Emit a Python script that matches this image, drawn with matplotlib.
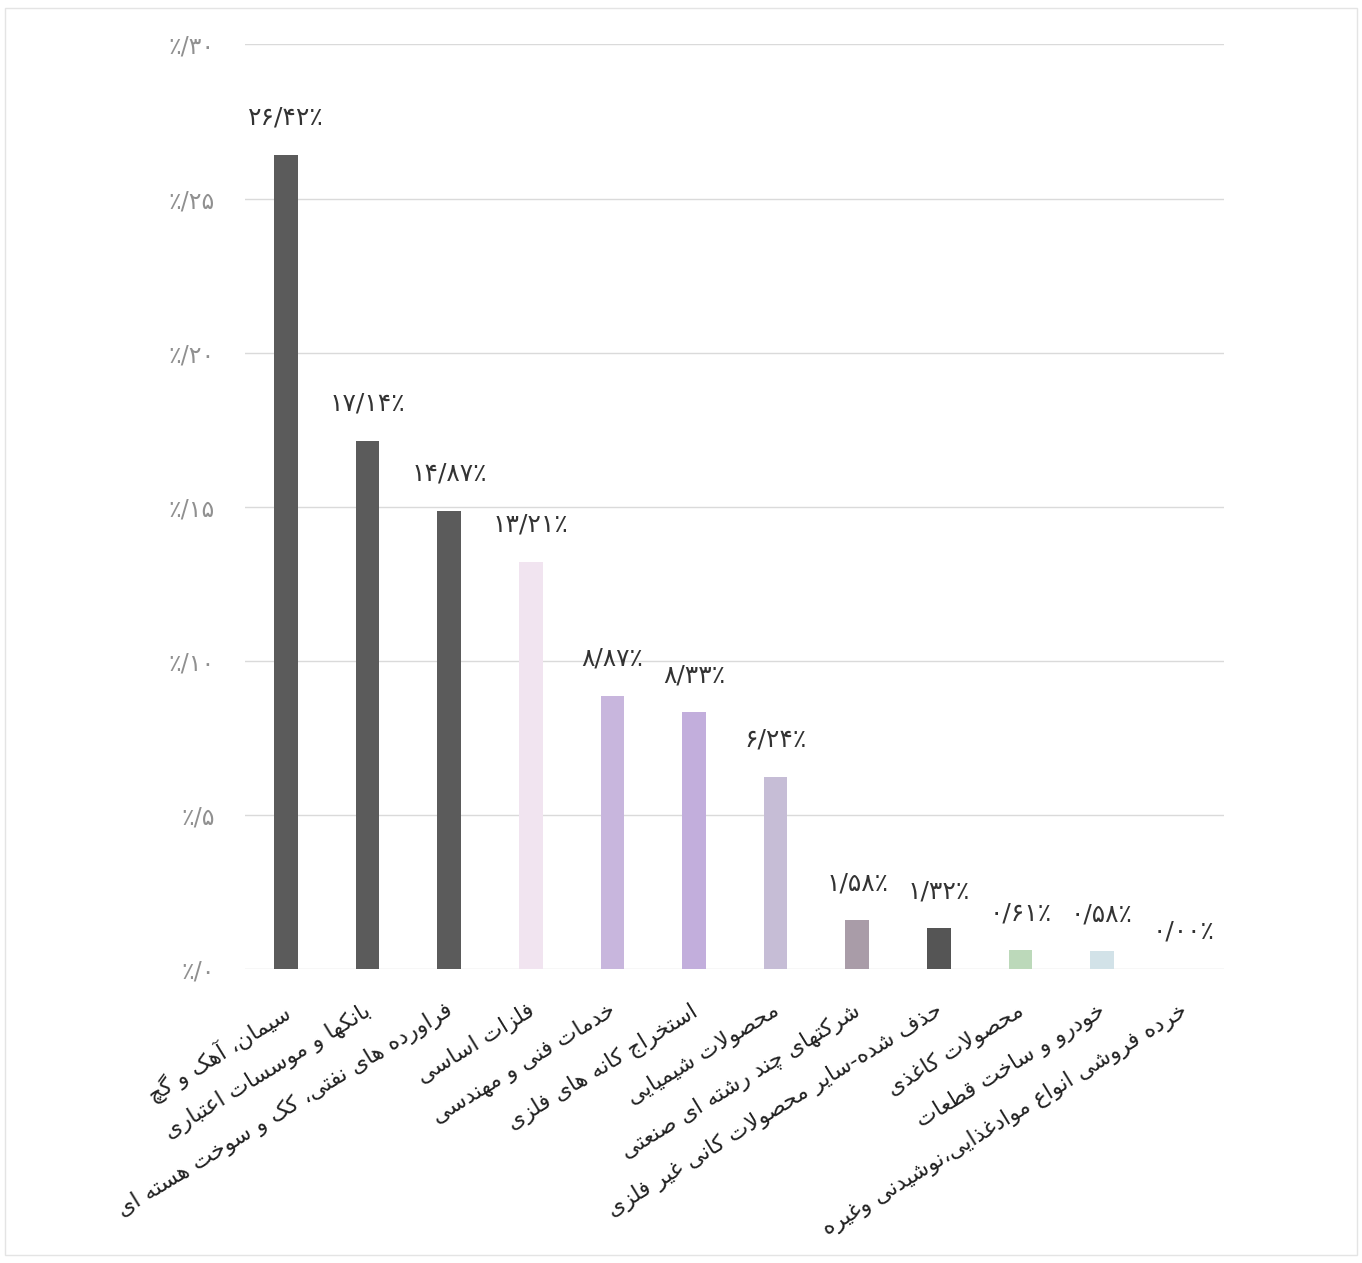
import matplotlib
matplotlib.use("Agg")
import matplotlib.pyplot as plt
from matplotlib.patches import Rectangle
from matplotlib.transforms import ScaledTranslation

plt.rcParams["font.family"] = ["DejaVu Sans"]

# data
categories = [
    "سیمان، آهک و گچ",
    "بانکها و موسسات اعتباری",
    "فراورده های نفتی، کک و سوخت هسته ای",
    "فلزات اساسی",
    "خدمات فنی و مهندسی",
    "استخراج کانه های فلزی",
    "محصولات شیمیایی",
    "شرکتهای چند رشته ای صنعتی",
    "حذف شده-سایر محصولات کانی غیر فلزی",
    "محصولات کاغذی",
    "خودرو و ساخت قطعات",
    "خرده فروشی انواع موادغذایی،نوشیدنی وغیره",
]
values = [26.42, 17.14, 14.87, 13.21, 8.87, 8.33, 6.24, 1.58, 1.32, 0.61, 0.58, 0.00]
bar_colors = ["#5b5b5b", "#5b5b5b", "#5b5b5b", "#f1e4f0", "#c8b6dd", "#c2aedc",
              "#c6bdd6", "#a99ca8", "#555555", "#bcd9ba", "#d2e2e8", "#ffffff"]
yticks = [0, 5, 10, 15, 20, 25, 30]

# --- tiny arabic/persian shaper (matplotlib has no bidi/shaping) ---
# letter: (isolated, final, initial, medial); right-joining letters only have 2 forms
FORMS = {
    "ب": (0xFE8F, 0xFE90, 0xFE91, 0xFE92), "پ": (0xFB56, 0xFB57, 0xFB58, 0xFB59),
    "ت": (0xFE95, 0xFE96, 0xFE97, 0xFE98), "ث": (0xFE99, 0xFE9A, 0xFE9B, 0xFE9C),
    "ج": (0xFE9D, 0xFE9E, 0xFE9F, 0xFEA0), "چ": (0xFB7A, 0xFB7B, 0xFB7C, 0xFB7D),
    "ح": (0xFEA1, 0xFEA2, 0xFEA3, 0xFEA4), "خ": (0xFEA5, 0xFEA6, 0xFEA7, 0xFEA8),
    "س": (0xFEB1, 0xFEB2, 0xFEB3, 0xFEB4), "ش": (0xFEB5, 0xFEB6, 0xFEB7, 0xFEB8),
    "ص": (0xFEB9, 0xFEBA, 0xFEBB, 0xFEBC), "ض": (0xFEBD, 0xFEBE, 0xFEBF, 0xFEC0),
    "ط": (0xFEC1, 0xFEC2, 0xFEC3, 0xFEC4), "ظ": (0xFEC5, 0xFEC6, 0xFEC7, 0xFEC8),
    "ع": (0xFEC9, 0xFECA, 0xFECB, 0xFECC), "غ": (0xFECD, 0xFECE, 0xFECF, 0xFED0),
    "ف": (0xFED1, 0xFED2, 0xFED3, 0xFED4), "ق": (0xFED5, 0xFED6, 0xFED7, 0xFED8),
    "ک": (0xFB8E, 0xFB8F, 0xFB90, 0xFB91), "گ": (0xFB92, 0xFB93, 0xFB94, 0xFB95),
    "ل": (0xFEDD, 0xFEDE, 0xFEDF, 0xFEE0), "م": (0xFEE1, 0xFEE2, 0xFEE3, 0xFEE4),
    "ن": (0xFEE5, 0xFEE6, 0xFEE7, 0xFEE8), "ه": (0xFEE9, 0xFEEA, 0xFEEB, 0xFEEC),
    "ی": (0xFBFC, 0xFBFD, 0xFBFE, 0xFBFF), "ئ": (0xFE89, 0xFE8A, 0xFE8B, 0xFE8C),
    "ا": (0xFE8D, 0xFE8E), "آ": (0xFE81, 0xFE82), "د": (0xFEA9, 0xFEAA),
    "ذ": (0xFEAB, 0xFEAC), "ر": (0xFEAD, 0xFEAE), "ز": (0xFEAF, 0xFEB0),
    "ژ": (0xFB8A, 0xFB8B), "و": (0xFEED, 0xFEEE),
}
LAM_ALEF = {"ا": (0xFEFB, 0xFEFC), "آ": (0xFEF5, 0xFEF6)}


def shape(text):
    # merge lam+alef first
    chars = []
    i = 0
    while i < len(text):
        c = text[i]
        if c == "ل" and i + 1 < len(text) and text[i + 1] in LAM_ALEF:
            chars.append(("LA", text[i + 1]))
            i += 2
        else:
            chars.append((c, None))
            i += 1

    def dual(item):
        c, extra = item
        return c != "LA" and c in FORMS and len(FORMS[c]) == 4

    def joins(item):
        return item[0] == "LA" or item[0] in FORMS

    out = []
    for k, item in enumerate(chars):
        c, extra = item
        prev_join = k > 0 and dual(chars[k - 1]) and joins(item)
        next_join = k + 1 < len(chars) and dual(item) and joins(chars[k + 1])
        if c == "LA":
            iso, fin = LAM_ALEF[extra]
            out.append(chr(fin if prev_join else iso))
        elif c in FORMS:
            f = FORMS[c]
            if len(f) == 2:
                out.append(chr(f[1] if prev_join else f[0]))
            elif prev_join and next_join:
                out.append(chr(f[3]))
            elif prev_join:
                out.append(chr(f[1]))
            elif next_join:
                out.append(chr(f[2]))
            else:
                out.append(chr(f[0]))
        else:
            out.append(c)
    return "".join(reversed(out))


FA_DIGITS = str.maketrans("0123456789", "۰۱۲۳۴۵۶۷۸۹")


def fa_num(s):
    return s.translate(FA_DIGITS)


fig = plt.figure(figsize=(13.62, 12.63), dpi=100)
ax = fig.add_axes([0.18, 0.2328, 0.719, 0.732])

x = list(range(len(categories)))
ax.bar(x, values, width=0.29, color=bar_colors, zorder=3)

for xi, v in zip(x, values):
    lbl = fa_num(("%.2f" % v).replace(".", "/")) + "٪"
    ax.annotate(lbl, (xi, v), xytext=(0, 18), textcoords="offset points",
                ha="center", va="bottom", fontsize=18, color="#333333")

ax.set_xlim(-0.5, len(categories) - 0.5)
ax.set_ylim(0, 30)
ax.set_yticks(yticks)
ax.set_yticklabels(["٪/" + fa_num(str(t)) for t in yticks], fontsize=17, color="#909090")
ax.yaxis.grid(True, color="#dadada", linewidth=1.0, zorder=0)
ax.set_axisbelow(True)
for s in ax.spines.values():
    s.set_visible(False)
ax.tick_params(axis="both", length=0)
ax.tick_params(axis="y", pad=22)

ax.set_xticks(x)
ax.set_xticklabels([shape(c) for c in categories], rotation=31.5, ha="right",
                   rotation_mode="anchor", fontsize=16, color="#222222")
ax.tick_params(axis="x", pad=22)
shift = ScaledTranslation(-0.04, 0, fig.dpi_scale_trans)
for lab in ax.get_xticklabels():
    lab.set_transform(lab.get_transform() + shift)

# faint frame around the whole chart
fig.patches.append(Rectangle((0.004, 0.006), 0.992, 0.988, transform=fig.transFigure,
                             fill=False, edgecolor="#e4e4e4", linewidth=1.0))

fig.savefig("out.png", dpi=100)
